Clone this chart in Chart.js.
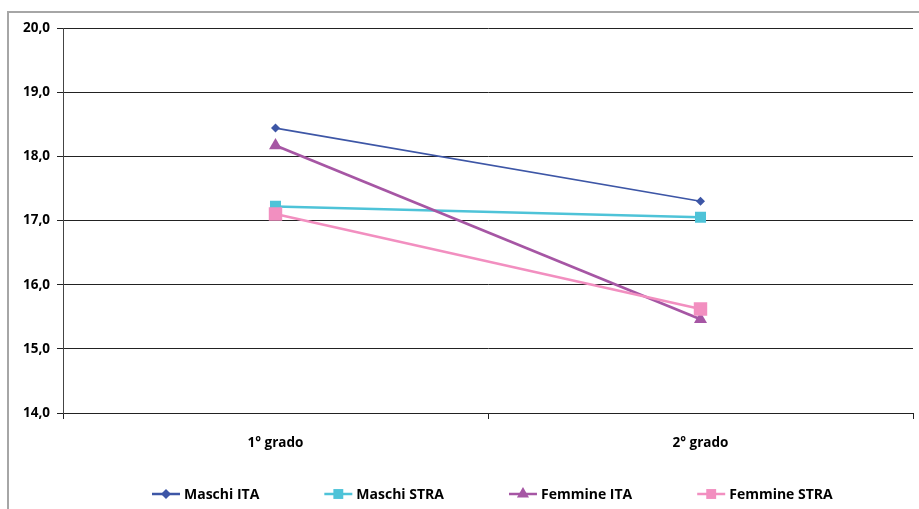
<!DOCTYPE html>
<html><head><meta charset="utf-8">
<script src="https://cdn.jsdelivr.net/npm/chart.js@4/dist/chart.umd.min.js"></script>
<style>
html,body{margin:0;padding:0;background:#fff;}
#wrap{position:relative;width:919px;height:509px;overflow:hidden;background:#fff;}
#frame{position:absolute;left:7px;top:11px;width:1000px;height:1000px;border-left:2px solid #a6a6a6;border-top:2px solid #a6a6a6;}
canvas{position:absolute;left:0;top:0;}
</style></head><body>
<div id="wrap"><div id="frame"></div><canvas id="c" width="919" height="509"></canvas></div>
<script>
const categories = ['1° grado', '2° grado'];
const seriesNames = ['Maschi ITA', 'Maschi STRA', 'Femmine ITA', 'Femmine STRA'];
const maschiITA = [18.44, 17.30];
const maschiSTRA = [17.22, 17.05];
const femmineITA = [18.17, 15.46];
const femmineSTRA = [17.10, 15.62];
const yMin = 14, yMax = 20, yStep = 1;

const FONT = 'Open Sans';
const FONT_SIZE = 13.5;
const LEGEND_FONT_SIZE = 14;
const colors = ['#3D56A6', '#4EC3D8', '#A656A4', '#F28FC0'];
const styles = ['rectRot', 'rect', 'triangle', 'rect'];
const radii = [4.5, 7.8, 7.5, 9.5];
const legendRadii = [5, 7, 7, 7];
const widths = [1.75, 2.5, 2.75, 2.5];
const values = [maschiITA, maschiSTRA, femmineITA, femmineSTRA];

const datasets = seriesNames.map((n, i) => ({
  label: n, data: values[i],
  borderColor: colors[i], backgroundColor: colors[i],
  pointBackgroundColor: colors[i], pointBorderColor: colors[i], pointBorderWidth: 0,
  pointStyle: styles[i], pointRadius: radii[i], borderWidth: widths[i], tension: 0, order: 4 - i
}));

const legendPlugin = {
  id: 'excelLegend',
  afterDraw(chart) {
    const ctx = chart.ctx;
    ctx.save();
    ctx.font = 'bold ' + LEGEND_FONT_SIZE + 'px "' + FONT + '"';
    ctx.textBaseline = 'middle';
    ctx.textAlign = 'left';
    let x = 152;
    const y = 494;
    chart.data.datasets.forEach((ds, i) => {
      ctx.strokeStyle = ds.borderColor;
      ctx.lineWidth = 2.5;
      ctx.beginPath();
      ctx.moveTo(x, y); ctx.lineTo(x + 28, y); ctx.stroke();
      ctx.fillStyle = ds.borderColor;
      Chart.helpers.drawPoint(ctx, {pointStyle: ds.pointStyle, radius: legendRadii[i], rotation: 0, borderWidth: 0}, x + 14, y);
      ctx.fillStyle = '#000';
      ctx.fillText(ds.label, x + 32, y + 1);
      x += 32 + ctx.measureText(ds.label).width + 65;
    });
    ctx.restore();
  }
};

new Chart(document.getElementById('c'), {
  type: 'line',
  data: { labels: categories, datasets },
  options: {
    responsive: false, animation: false, devicePixelRatio: 1,
    layout: { autoPadding: false, padding: { left: 0, top: 28, right: 6, bottom: 0 } },
    plugins: { legend: { display: false }, tooltip: { enabled: false } },
    scales: {
      x: {
        offset: true,
        grid: { offset: true, drawOnChartArea: false, tickLength: 6, color: '#222' },
        border: { display: true, color: '#222' },
        ticks: { padding: 16, color: '#000', font: { family: FONT, weight: 'bold', size: FONT_SIZE } },
        afterFit(s) { s.height = 96; }
      },
      y: {
        min: yMin, max: yMax,
        ticks: { stepSize: yStep, padding: 7, color: '#000', font: { family: FONT, weight: 'bold', size: FONT_SIZE },
          callback: v => v.toFixed(1).replace('.', ',') },
        grid: { color: '#222', tickLength: 6 },
        border: { display: true, color: '#444' },
        afterFit(s) { s.width = 63; }
      }
    }
  },
  plugins: [legendPlugin]
});
</script>
</body></html>
